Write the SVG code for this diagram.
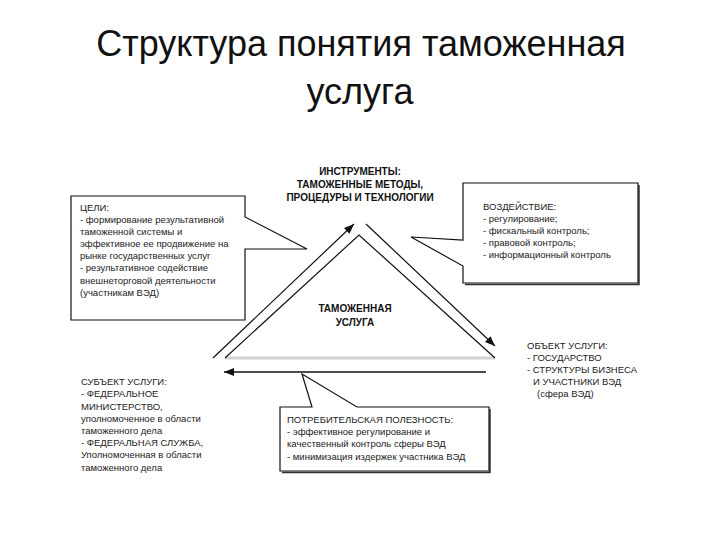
<svg xmlns="http://www.w3.org/2000/svg" width="720" height="540" viewBox="0 0 720 540">
<defs>
<style>
.title{font-family:"Liberation Sans","Noto Sans",sans-serif;font-size:36px;fill:#111;text-anchor:middle}
.t{font-family:"Liberation Sans","Noto Sans",sans-serif;font-size:9.5px;fill:#222}
.b{font-family:"Liberation Sans","Noto Sans",sans-serif;font-size:10px;font-weight:bold;fill:#111;text-anchor:middle}
.box{fill:#fff;stroke:#111;stroke-width:1.2}
.shadow{fill:none;stroke:#333;stroke-width:1.5}
.ln{stroke:#111;stroke-width:1.2;fill:none}
</style>
<marker id="ah" markerUnits="userSpaceOnUse" markerWidth="10" markerHeight="8" refX="10" refY="4" orient="auto">
<path d="M0,0 L10,4 L0,8 Z" fill="#111"/>
</marker>
</defs>
<rect width="720" height="540" fill="#fff"/>
<g id="title">
<text class="title" x="361" y="56">Структура понятия таможенная</text>
<text class="title" x="360" y="104">услуга</text>
</g>
<g id="connectors">
<line x1="225" y1="358" x2="495" y2="358" stroke="#d2d2d2" stroke-width="3"/>
<polyline class="ln" points="225,358 359,235 495,358"/>
<line class="ln" x1="213" y1="358" x2="354" y2="224" marker-end="url(#ah)"/>
<line class="ln" x1="366" y1="224" x2="495" y2="346" marker-end="url(#ah)"/>
<line x1="486" y1="372" x2="224" y2="372" stroke="#111" stroke-width="1.6" marker-end="url(#ah)"/>
</g>
<g id="instruments">
<text class="b" x="360" y="175">ИНСТРУМЕНТЫ:</text>
<text class="b" x="360" y="188">ТАМОЖЕННЫЕ МЕТОДЫ,</text>
<text class="b" x="360" y="201">ПРОЦЕДУРЫ И ТЕХНОЛОГИИ</text>
</g>
<g id="service">
<text class="b" x="355" y="312">ТАМОЖЕННАЯ</text>
<text class="b" x="355" y="326">УСЛУГА</text>
</g>
<g id="goals">
<path class="box" d="M71,196 H245 V217 L307,249 L245,249 V320 H71 Z"/>
<text class="t" x="80" y="211">ЦЕЛИ:</text>
<text class="t" x="80" y="223">- формирование результативной</text>
<text class="t" x="80" y="235">таможенной системы и</text>
<text class="t" x="80" y="247">эффективное ее продвижение на</text>
<text class="t" x="80" y="259">рынке государственных услуг</text>
<text class="t" x="80" y="271">- результативное содействие</text>
<text class="t" x="80" y="284">внешнеторговой деятельности</text>
<text class="t" x="80" y="296">(участникам ВЭД)</text>
</g>
<g id="impact">
<path class="shadow" d="M639,185 V284.5 H465"/>
<path class="box" d="M463,183 H638 V283 H463 V266 L411,237 L463,240 Z"/>
<text class="t" x="483" y="210">ВОЗДЕЙСТВИЕ:</text>
<text class="t" x="483" y="222">- регулирование;</text>
<text class="t" x="483" y="234">- фискальный контроль;</text>
<text class="t" x="483" y="246">- правовой контроль;</text>
<text class="t" x="483" y="258">- информационный контроль</text>
</g>
<g id="object">
<text class="t" x="527" y="349">ОБЪЕКТ УСЛУГИ:</text>
<text class="t" x="527" y="361">- ГОСУДАРСТВО</text>
<text class="t" x="527" y="373">- СТРУКТУРЫ БИЗНЕСА</text>
<text class="t" x="533" y="385">И УЧАСТНИКИ ВЭД</text>
<text class="t" x="537" y="397">(сфера ВЭД)</text>
</g>
<g id="subject">
<text class="t" x="81" y="385">СУБЪЕКТ УСЛУГИ:</text>
<text class="t" x="81" y="397">- ФЕДЕРАЛЬНОЕ</text>
<text class="t" x="81" y="410">МИНИСТЕРСТВО,</text>
<text class="t" x="81" y="422">уполномоченное в области</text>
<text class="t" x="81" y="434">таможенного дела</text>
<text class="t" x="81" y="446">- ФЕДЕРАЛЬНАЯ СЛУЖБА,</text>
<text class="t" x="81" y="458">Уполномоченная в области</text>
<text class="t" x="81" y="471">таможенного дела</text>
</g>
<g id="utility">
<path class="shadow" d="M490,409 V472.5 H282"/>
<path class="box" d="M280,407 H312 L302,374 L357,407 H489 V471 H280 Z"/>
<text class="t" x="287" y="423">ПОТРЕБИТЕЛЬСКАЯ ПОЛЕЗНОСТЬ:</text>
<text class="t" x="287" y="435">- эффективное регулирование и</text>
<text class="t" x="287" y="447">качественный контроль сферы ВЭД</text>
<text class="t" x="287" y="460">- минимизация издержек участника ВЭД</text>
</g>
</svg>
